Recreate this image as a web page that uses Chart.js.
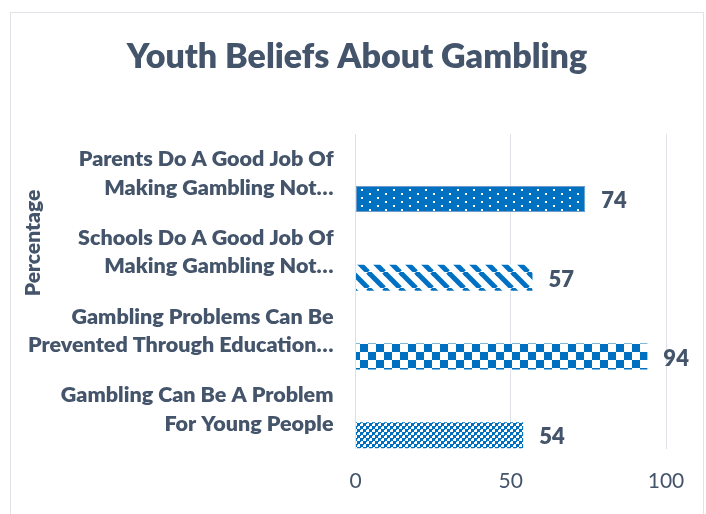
<!DOCTYPE html>
<html>
<head>
<meta charset="utf-8">
<script src="https://cdn.jsdelivr.net/npm/chart.js@4.4.0/dist/chart.umd.min.js"></script>
<style>
  body { margin: 0; background: #fff; }
  #frame { position: absolute; left: 10px; top: 12px; width: 692px; height: 520px; border: 1px solid #E0E3E8; }
  #chart { position: absolute; left: 0; top: 0; }
</style>
</head>
<body>
<div id="frame"></div>
<canvas id="chart" width="706" height="514"></canvas>
<script>
// ============================
// Data
// ============================
const chartTitle = "Youth Beliefs About Gambling";
const axisTitle = "Percentage";
const categories = [
  ["Parents Do A Good Job Of", "Making Gambling Not…"],
  ["Schools Do A Good Job Of", "Making Gambling Not…"],
  ["Gambling Problems Can Be", "Prevented Through Education…"],
  ["Gambling Can Be A Problem", "For Young People"]
];
const percentages = [74, 57, 94, 54];
const spacer = [null, null, null, null]; // empty series, like the hidden one in the sheet
const xTicks = [0, 50, 100];

const BLUE = "#0070C0";
const TEXT = "#44546A";
const FONT = "Lato, 'Open Sans', sans-serif";
const HEAVY = 800;

// ============================
// Fill patterns
// ============================
function makeTile(w, h, draw) {
  const c = document.createElement("canvas");
  c.width = w; c.height = h;
  draw(c.getContext("2d"), w, h);
  return document.getElementById("chart").getContext("2d").createPattern(c, "repeat");
}

const dots = makeTile(16, 8, (g, w, h) => {
  g.fillStyle = BLUE; g.fillRect(0, 0, w, h);
  g.fillStyle = "#fff";
  g.fillRect(1, 1, 2, 2);
  g.fillRect(9, 5, 2, 2);
});

const stripes = makeTile(16, 16, (g, w, h) => {
  g.fillStyle = "#fff"; g.fillRect(0, 0, w, h);
  g.strokeStyle = BLUE; g.lineWidth = 5;
  for (const o of [-16, 0, 16]) {
    g.beginPath(); g.moveTo(o, 0); g.lineTo(o + 16, 16); g.stroke();
  }
});

const bigChecker = makeTile(16, 16, (g, w, h) => {
  g.fillStyle = "#fff"; g.fillRect(0, 0, w, h);
  g.fillStyle = BLUE;
  g.fillRect(0, 0, 8, 8);
  g.fillRect(8, 8, 8, 8);
});

const smallChecker = makeTile(6, 6, (g, w, h) => {
  g.fillStyle = "#fff"; g.fillRect(0, 0, w, h);
  g.fillStyle = BLUE;
  g.fillRect(0, 0, 3, 3);
  g.fillRect(3, 3, 3, 3);
  g.fillRect(0, 3, 1, 1);
  g.fillRect(3, 0, 1, 1);
});

// ============================
// Plugins: titles + value labels
// ============================
const titles = {
  id: "titles",
  afterDraw(chart) {
    const ctx = chart.ctx;
    ctx.save();
    ctx.fillStyle = TEXT;
    ctx.textAlign = "center";
    ctx.textBaseline = "middle";
    // main title, centred on the frame
    ctx.font = `${HEAVY} 34px ${FONT}`;
    ctx.fillText(chartTitle, 357, 57);
    // rotated axis title
    ctx.translate(33, 243);
    ctx.rotate(-Math.PI / 2);
    ctx.font = `${HEAVY} 21px ${FONT}`;
    ctx.fillText(axisTitle, 0, 0);
    ctx.restore();
  }
};

const valueLabels = {
  id: "valueLabels",
  afterDatasetsDraw(chart) {
    const ctx = chart.ctx;
    const meta = chart.getDatasetMeta(1);
    ctx.save();
    ctx.font = `${HEAVY} 22px ${FONT}`;
    ctx.fillStyle = TEXT;
    ctx.textAlign = "left";
    ctx.textBaseline = "middle";
    meta.data.forEach((bar, i) => {
      ctx.fillText(String(percentages[i]), bar.x + 16, bar.y + 2);
    });
    ctx.restore();
  }
};

// ============================
// Chart
// ============================
new Chart(document.getElementById("chart"), {
  type: "bar",
  data: {
    labels: categories,
    datasets: [
      { label: "spacer", data: spacer },
      {
        label: axisTitle,
        data: percentages,
        backgroundColor: [dots, stripes, bigChecker, smallChecker],
        borderColor: ["#6E9CC8", "rgba(0,0,0,0)", "rgba(0,0,0,0)", "rgba(0,0,0,0)"],
        borderWidth: [1, 0, 0, 0],
        borderSkipped: false
      }
    ]
  },
  options: {
    indexAxis: "y",
    responsive: false,
    animation: false,
    categoryPercentage: 1.3,
    barPercentage: 0.508,
    layout: { padding: { left: 10, right: 40, top: 134, bottom: 0 } },
    plugins: {
      legend: { display: false },
      tooltip: { enabled: false },
      title: { display: false }
    },
    scales: {
      x: {
        min: 0,
        max: 100,
        afterBuildTicks: scale => { scale.ticks = xTicks.map(v => ({ value: v })); },
        afterFit: scale => { scale.height = 65; },
        grid: { color: "#DEE2E8", drawTicks: false },
        border: { display: false },
        ticks: { color: TEXT, padding: 20, font: { family: FONT, size: 21 } }
      },
      y: {
        afterFit: scale => { scale.width = 345.5; },
        grid: { display: false },
        border: { display: false },
        ticks: {
          color: TEXT,
          padding: 14,
          autoSkip: false,
          font: { family: FONT, size: 21.5, weight: HEAVY, lineHeight: 1.32 }
        }
      }
    }
  },
  plugins: [titles, valueLabels]
});
</script>
</body>
</html>
